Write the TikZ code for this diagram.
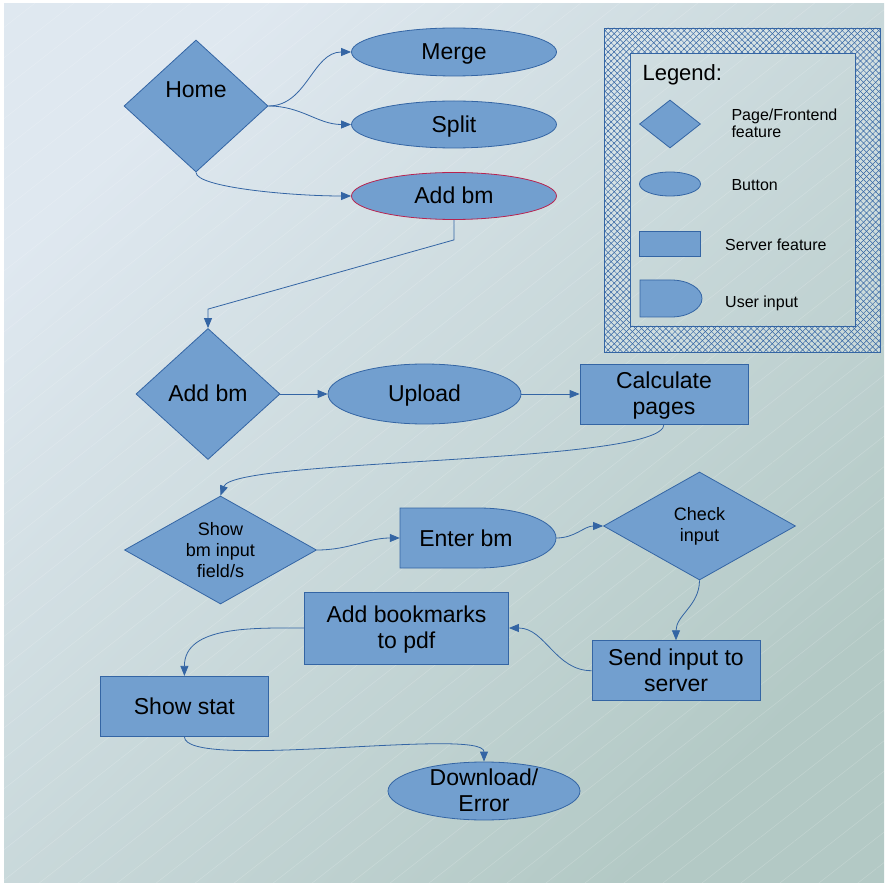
\documentclass[tikz,border=0pt]{standalone}
\usepackage{fontspec}
\setmainfont{Liberation Sans}
\usetikzlibrary{shapes.geometric,arrows.meta,patterns.meta}

\definecolor{shapefill}{HTML}{729FCF}
\definecolor{shapeline}{HTML}{3465A4}
\definecolor{bmline}{HTML}{B8234F}
\definecolor{bgtop}{HTML}{DFE8F0}
\definecolor{bgbottom}{HTML}{B3C9C5}

\begin{document}
\begin{tikzpicture}[x=1pt,y=1pt,
  font=\fontsize{23}{26}\selectfont,
  shapebox/.style={fill=shapefill,draw=shapeline,line width=0.8pt,inner sep=0pt,align=center},
  page/.style={shapebox,diamond},
  button/.style={shapebox,ellipse},
  server/.style={shapebox,rectangle},
  small/.style={font=\fontsize{18}{21}\selectfont,aspect=1.8},
  oneline/.style={text height=20.8pt,text depth=4.9pt},
  twolines/.style={text height=46.8pt,text depth=4.9pt},
  link/.style={draw=shapeline,line width=0.8pt,-{Triangle[length=10pt,width=8pt]}}]
\useasboundingbox (0,0) rectangle (887,-885);

% Background with faint stripes
\shade[top color=bgtop,bottom color=bgbottom,shading angle=45] (4,-4) rectangle (884,-882);
\begin{scope}[transparency group,opacity=0.18]
\fill[pattern={Lines[angle=38,distance=24pt,line width=0.6pt]},pattern color=white] (4,-4) rectangle (884,-882);
\end{scope}

% Legend
\fill[white,opacity=0.2,even odd rule] (604,-28) rectangle (880,-352) (630,-53) rectangle (855,-326);
\fill[pattern={Lines[angle=45,distance=4.3pt,line width=0.5pt]},pattern color=shapeline,even odd rule]
  (604,-28) rectangle (880,-352) (630,-53) rectangle (855,-326);
\fill[pattern={Lines[angle=-45,distance=4.3pt,line width=0.5pt]},pattern color=shapeline,even odd rule]
  (604,-28) rectangle (880,-352) (630,-53) rectangle (855,-326);
\draw[shapeline,line width=0.8pt] (604,-28) rectangle (880,-352);
\draw[shapeline,line width=0.8pt] (630,-53) rectangle (855,-326);
\node[anchor=base west,font=\fontsize{22}{26}\selectfont] (legend) at (639,-80.7) {Legend:};
\node[page,minimum width=61pt,minimum height=48pt] (lgpage) at (670,-124) {};
\node[button,minimum width=61pt,minimum height=24pt] (lgbutton) at (670,-184) {};
\node[server,minimum width=61pt,minimum height=25pt] (lgserver) at (670,-244) {};
\filldraw[fill=shapefill,draw=shapeline,line width=0.8pt] (640,-280) -- (671,-280)
  arc[start angle=90,end angle=-90,x radius=31pt,y radius=18.5pt] -- (640,-317) -- cycle;
\begin{scope}[font=\fontsize{16}{17}\selectfont]
\node[anchor=west,align=left] (lgpagetext) at (728,-123) {Page/Frontend\\feature};
\node[anchor=base west] (lgbuttontext) at (728,-190.7) {Button};
\node[anchor=base west] (lgservertext) at (721.7,-251) {Server feature};
\node[anchor=base west] (lginputtext) at (721.7,-307.7) {User input};
\end{scope}

% Top row
\node[page,minimum width=144pt,minimum height=132pt,label={[yshift=16pt]center:Home}] (home) at (196,-106) {};
\node[button,oneline,minimum width=205pt,minimum height=48pt] (merge) at (454,-52) {Merge};
\node[button,oneline,minimum width=205pt,minimum height=47pt] (split) at (454,-124.5) {Split};
\node[button,oneline,draw=bmline,minimum width=205pt,minimum height=47pt] (addbm) at (454,-196) {Add bm};

% Middle row
\node[page,oneline,minimum width=144pt,minimum height=131pt] (addpage) at (208,-394) {Add bm};
\node[button,oneline,minimum width=193pt,minimum height=60pt] (upload) at (424.5,-394) {Upload};
\node[server,twolines,minimum width=168pt,minimum height=60pt] (calc) at (664,-394) {Calculate\\pages};

% Input row
\node[page,small,minimum width=192pt,minimum height=108pt] (showfield) at (220.5,-550) {Show\\bm input\\field/s};
\filldraw[fill=shapefill,draw=shapeline,line width=0.8pt] (400,-508) -- (478,-508)
  arc[start angle=90,end angle=-90,x radius=78pt,y radius=30pt] -- (400,-568) -- cycle;
\node[minimum width=156pt,minimum height=60pt,inner sep=0pt,label={[xshift=-12pt]center:Enter bm}] (enter) at (478,-538) {};
\node[page,small,minimum width=192pt,minimum height=108pt] (check) at (699.5,-526) {Check\\input};

% Bottom rows
\node[server,twolines,minimum width=168pt,minimum height=60pt] (send) at (676,-670.7) {Send input to\\server};
\node[server,twolines,minimum width=204pt,minimum height=72pt] (addpdf) at (406.5,-628) {Add bookmarks\\to pdf};
\node[server,oneline,minimum width=168pt,minimum height=60pt] (stat) at (184.4,-706.3) {Show stat};
\node[button,twolines,inner ysep=-5.5pt,minimum width=192pt,minimum height=58pt] (download) at (484,-791) {Download/\\Error};

% Connectors
\draw[link] (home.east) to[out=0,in=180] (merge.west);
\draw[link] (home.east) to[out=0,in=180] (split.west);
\draw[link] (home.south) to[out=-90,in=180,out distance=15pt,in distance=60pt] (addbm.west);
\draw[link] (addbm.south) -- ++(0,-20) -- ([yshift=19pt]addpage.north) -- (addpage.north);
\draw[link] (addpage.east) -- (upload.west);
\draw[link] (upload.east) -- (calc.west);
\draw[link] (calc.south) to[out=-90,in=70,distance=40pt] (showfield.north);
\draw[link] (showfield.east) to[out=0,in=180] (enter.west);
\draw[link] (enter.east) to[out=0,in=180] (check.west);
\draw[link] (check.south) to[out=-90,in=90] (send.north);
\draw[link] (send.west) to[out=180,in=0] (addpdf.east);
\draw[link] (addpdf.west) to[out=180,in=90] (stat.north);
\draw[link] (stat.south) to[out=-90,in=90,distance=35pt] (download.north);
\end{tikzpicture}
\end{document}
